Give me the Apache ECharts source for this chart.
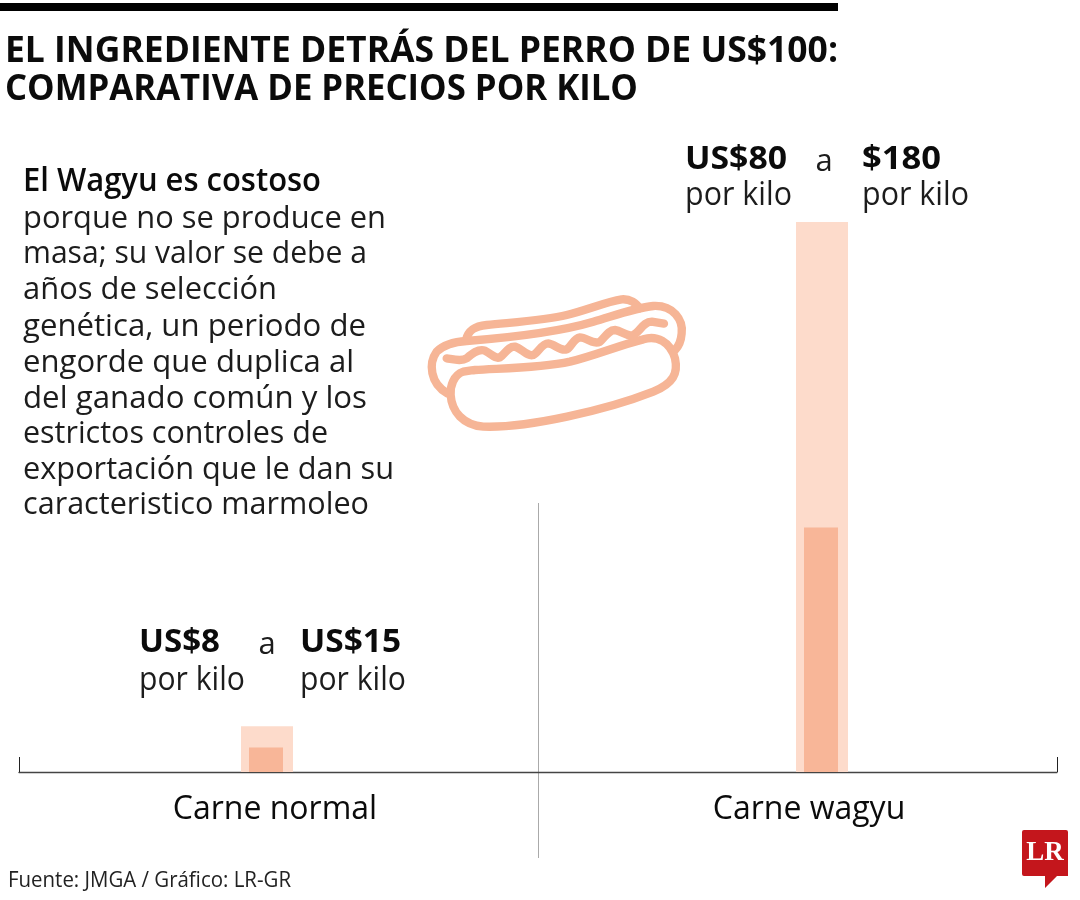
<!DOCTYPE html>
<html><head><meta charset="utf-8">
<style>html,body{margin:0;padding:0;background:#fff}#c{width:1080px;height:900px}</style>
<script src="https://cdn.jsdelivr.net/npm/echarts@6/dist/echarts.min.js"></script>
</head><body><div id="c"></div>
<script>
const categories = ['Carne normal', 'Carne wagyu'];
const minPrice = [8, 80];
const maxPrice = [15, 180];
const titleLines = ['EL INGREDIENTE DETRÁS DEL PERRO DE US$100:', 'COMPARATIVA DE PRECIOS POR KILO'];
const lead = 'El Wagyu es costoso';
const bodyLines = ['porque no se produce en','masa; su valor se debe a','años de selección','genética, un periodo de','engorde que duplica al','del ganado común y los','estrictos controles de','exportación que le dan su','caracteristico marmoleo'];
const source = 'Fuente: JMGA / Gráfico: LR-GR';
const FONT = '"Open Sans"';
const DARK = '#F8B698', LIGHT = '#FDDBCB', INK = '#0b0b0b', HOT = '#F6B596';

const ctx = document.createElement('canvas').getContext('2d');
function txt(s, x, yc, size, weight, right, color) {
  ctx.font = `${weight} ${size}px ${FONT}`;
  const w = ctx.measureText(s).width;
  return { type:'text', x, y:yc+2, scaleX: right ? (right - x) / w : 1, z: 10,
    style:{ text:s, font:`${weight} ${size}px ${FONT}`, fill: color||INK, verticalAlign:'middle' } };
}
const els = [];
els.push({type:'rect', shape:{x:0,y:3,width:838,height:8}, style:{fill:'#000'}});
els.push(txt(titleLines[0],5,50,36,700,838), txt(titleLines[1],5,88,36,700,638));
els.push(txt(lead,23,180,32,600,321));
const bodyY=[217,252,288,325,361,397,432,468,503], bodyR=[386,367,277,366,354,367,328,394,369];
bodyLines.forEach((l,i)=>els.push(txt(l,23,bodyY[i],31,400,bodyR[i],'#1c1c1c')));
const hi = s=>'US$'+s, fromLabels=[hi(minPrice[0]),hi(minPrice[1])], toLabels=[hi(maxPrice[0]),'$'+maxPrice[1]];
const unit='por kilo';
[[139,267,300,641,679,245,220,401],[685,824,862,158,194,792,787,941]].forEach((p,i)=>{
  els.push(txt(fromLabels[i],p[0],p[3],32,700,p[6]));
  els.push(txt(unit,p[0],p[4],32,400,p[5],'#1c1c1c'));
  els.push({type:'text',x:p[1],y:p[3]+4,z:10,style:{text:'a',font:`400 31px ${FONT}`,fill:'#1c1c1c',align:'center',verticalAlign:'middle'}});
  els.push(txt(toLabels[i],p[2],p[3],32,700,p[7]));
  els.push(txt(unit,p[2],p[4],32,400,p[2]+(p[5]-p[0]),'#1c1c1c'));
});
els.push(txt(source,8,879,21,400,291,'#222'));
els.push({type:'line',shape:{x1:538.5,y1:503,x2:538.5,y2:858},style:{stroke:'#aaa',lineWidth:1}});
els.push({type:'text',x:1045,y:853,z:10,style:{text:'LR',font:'700 27px "Liberation Serif"',fill:'#fff',align:'center',verticalAlign:'middle'}});

const dog=['M130 275C100 285 90 320 92 345C95 395 130 435 190 440C320 445 560 390 700 335C760 310 775 280 765 235C750 185 710 165 670 178C600 195 530 225 450 245C360 265 230 265 165 270C150 272 140 273 130 275Z',
'M82 340C30 310 25 250 50 215C75 190 110 185 140 183C300 170 420 155 520 125C580 108 640 85 700 78C760 75 790 120 785 160C783 185 775 200 765 210',
'M138 180C145 150 165 138 200 135C300 125 380 120 440 105C500 90 560 65 605 58C630 56 650 70 658 85',
'M80 235C100 238 125 245 140 235C155 222 175 205 195 212C215 222 225 238 240 232C255 222 265 198 285 200C305 205 320 230 340 225C355 218 365 190 385 190C405 192 420 215 440 208C455 200 460 175 480 172C500 172 520 195 540 185C555 172 565 150 585 150C605 152 620 172 640 165C660 155 670 125 695 125L732 131'];
const logoPath='M1024 830H1066Q1068 830 1068 832V876H1057L1045 888V876H1024Q1022 876 1022 874V832Q1022 830 1024 830Z';

const chart = echarts.init(document.getElementById('c'));
chart.setOption({
  animation:false, backgroundColor:'#fff',
  grid:[
    {left:-10.5,width:1110,top:222,height:550,outerBoundsMode:'none'},
    {left:19,width:1038,top:222,height:550,outerBoundsMode:'none'},
    {left:-11.5,width:1110,top:222,height:550,outerBoundsMode:'none'}
  ],
  xAxis:[
    {type:'category',gridIndex:0,data:categories,z:3,axisLine:{show:false},axisTick:{show:false},
     axisLabel:{margin:22,interval:0,formatter:(v,i)=>`{c${i}|${v}}`,
       rich:{c0:{fontFamily:'Open Sans',fontSize:32,color:INK,padding:[0,0,0,16]},c1:{fontFamily:'Open Sans',fontSize:32,color:INK,padding:[0,26,0,0]}}}},
    {type:'value',gridIndex:1,min:0,max:1,interval:1,axisLine:{show:true,onZero:false,lineStyle:{color:'#444',width:1.4}},
     axisTick:{show:true,inside:true,length:15,lineStyle:{color:'#222',width:1}},axisLabel:{show:false},splitLine:{show:false}},
    {type:'category',gridIndex:2,data:categories,show:false}
  ],
  yAxis:[
    {type:'value',gridIndex:0,min:0,max:180,show:false},
    {type:'value',gridIndex:1,min:0,max:1,show:false},
    {type:'value',gridIndex:2,min:0,max:180,show:false}
  ],
  series:[
    {type:'bar',name:'Máximo',xAxisIndex:0,yAxisIndex:0,data:maxPrice,barWidth:52,itemStyle:{color:LIGHT},z:4,silent:true},
    {type:'bar',name:'Mínimo',xAxisIndex:2,yAxisIndex:2,data:minPrice,barWidth:34,itemStyle:{color:DARK},z:5,silent:true},
    {type:'custom',coordinateSystem:'none',data:[0],silent:true,z:6,clip:false,renderItem:()=>({type:'group',children:[
      {type:'group',x:420,y:280,scaleX:1/3,scaleY:1/3,children:dog.map(d=>({type:'path',shape:{pathData:d},style:{fill:null,stroke:HOT,lineWidth:25,lineCap:'round',lineJoin:'round'}}))},
      {type:'path',shape:{pathData:logoPath},style:{fill:'#C4161C'}}
    ]})}
  ],
  graphic:{elements:els}
});
</script></body></html>
